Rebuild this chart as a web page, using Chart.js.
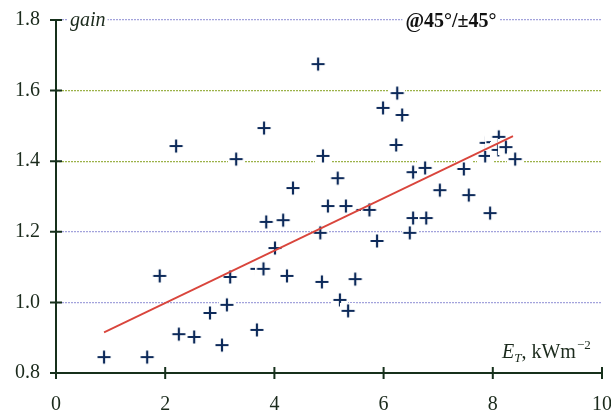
<!DOCTYPE html>
<html>
<head>
<meta charset="utf-8">
<script src="https://cdn.jsdelivr.net/npm/chart.js@4.4.1/dist/chart.umd.min.js"></script>
<style>
  html, body { margin: 0; padding: 0; background: #fff; }
  #wrap { width: 611px; height: 414px; position: relative; }
</style>
</head>
<body>
<div id="wrap"><canvas id="c"></canvas></div>
<script>
// Gain vs. total irradiance E_T
const X_VALUES = [0.88, 1.67, 1.90, 2.20, 2.25, 2.53, 2.82, 3.04, 3.13, 3.19, 3.30, 3.68, 3.68, 3.80,
  3.81, 3.85, 4.01, 4.16, 4.23, 4.34, 4.80, 4.84, 4.87, 4.89, 4.98, 5.16, 5.20, 5.31, 5.35, 5.48,
  5.62, 5.74, 5.88, 5.99, 6.25, 6.34, 6.23, 6.48, 6.54, 6.54, 6.76, 6.78, 7.03, 7.47, 7.56, 7.86,
  7.95, 7.88, 8.00, 8.11, 8.10, 8.24, 8.41];
const GAIN = [0.845, 0.845, 1.075, 1.443, 0.910, 0.902, 0.970, 0.879, 0.993, 1.072, 1.406, 0.922, 1.095, 1.095,
  1.494, 1.228, 1.154, 1.233, 1.075, 1.324, 1.675, 1.197, 1.058, 1.415, 1.273, 1.352, 1.007, 1.273, 0.976, 1.066,
  1.262, 1.262, 1.174, 1.551, 1.593, 1.531, 1.446, 1.197, 1.239, 1.369, 1.381, 1.239, 1.318, 1.378, 1.304, 1.415,
  1.253, 1.452, 1.454, 1.469, 1.432, 1.440, 1.406];
// fitted trend line end points
const TREND_X = [0.88, 8.37];
const TREND_Y = [0.915, 1.471];
const X_TICKS = [0, 2, 4, 6, 8, 10];
const Y_TICKS = [0.8, 1.0, 1.2, 1.4, 1.6, 1.8];

const SERIF = '"Liberation Serif", "DejaVu Serif", serif';
const AXIS_COLOR = "#16301b";
const TEXT_COLOR = "#1b2a1c";
const BLUE_GRID = "#a3a3dc";
const GREEN_GRID = "#9cb24a";

// cross marker on a small white tile (the tiles hide gridlines / neighbours like the original)
function crossMarker() {
  const s = 16;
  const cv = document.createElement("canvas");
  cv.width = s; cv.height = s;
  const g = cv.getContext("2d");
  g.fillStyle = "#fff";
  g.fillRect(0, 0, s, s);
  g.strokeStyle = "#0d2a5a";
  g.lineWidth = 2.2;
  g.beginPath();
  g.moveTo(1.5, s / 2); g.lineTo(s - 1.5, s / 2);
  g.moveTo(s / 2, 1.5); g.lineTo(s / 2, s - 1.5);
  g.stroke();
  return cv;
}

function gridColor(v) {
  if (Math.abs(v - 0.8) < 1e-6) return "rgba(0,0,0,0)";
  if (Math.abs(v - 1.4) < 1e-6 || Math.abs(v - 1.6) < 1e-6) return GREEN_GRID;
  return BLUE_GRID;
}

// axes with ticks that cross the line, plus the in-plot labels
const decor = {
  id: "decor",
  afterDatasetsDraw(chart) {
    const { ctx, chartArea: a, scales: { x, y } } = chart;
    ctx.save();
    ctx.strokeStyle = AXIS_COLOR;
    ctx.lineWidth = 2;
    ctx.beginPath();
    ctx.moveTo(a.left, a.top); ctx.lineTo(a.left, a.bottom);
    ctx.moveTo(a.left, a.bottom); ctx.lineTo(a.right, a.bottom);
    Y_TICKS.forEach((v) => {
      const py = y.getPixelForValue(v);
      ctx.moveTo(a.left - 6, py); ctx.lineTo(a.left + 6, py);
    });
    X_TICKS.forEach((v) => {
      const px = x.getPixelForValue(v);
      ctx.moveTo(px, a.bottom - 6); ctx.lineTo(px, a.bottom + 6);
    });
    ctx.stroke();

    ctx.fillStyle = TEXT_COLOR;
    ctx.textBaseline = "alphabetic";
    const top = y.getPixelForValue(1.8);
    // "gain"
    ctx.font = "italic 20px " + SERIF;
    let w = ctx.measureText("gain").width;
    ctx.fillStyle = "#fff";
    ctx.fillRect(a.left + 12, top - 6, w + 4, 12);
    ctx.fillStyle = TEXT_COLOR;
    ctx.fillText("gain", a.left + 14, top + 6);
    // title
    ctx.font = "bold 20px " + SERIF;
    const title = "@45°/±45°";
    w = ctx.measureText(title).width;
    const tx = 451 - w / 2;
    ctx.fillStyle = "#fff";
    ctx.fillRect(tx - 3, top - 6, w + 6, 12);
    ctx.fillStyle = "#111";
    ctx.fillText(title, tx, top + 7);
    // x-axis title E_T, kWm^-2
    let cx = 502, base = 358;
    ctx.fillStyle = TEXT_COLOR;
    ctx.font = "italic 20px " + SERIF;
    ctx.fillText("E", cx, base); cx += ctx.measureText("E").width;
    ctx.font = "italic 13px " + SERIF;
    ctx.fillText("T", cx, base + 4); cx += ctx.measureText("T").width;
    ctx.font = "20px " + SERIF;
    ctx.fillText(", kWm", cx, base); cx += ctx.measureText(", kWm").width;
    ctx.font = "13px " + SERIF;
    ctx.fillText("\u22122", cx + 1, base - 9);
    ctx.restore();
  },
};

const marker = crossMarker();

new Chart(document.getElementById("c"), {
  type: "scatter",
  data: {
    datasets: [
      {
        type: "line",
        data: TREND_X.map((v, i) => ({ x: v, y: TREND_Y[i] })),
        borderColor: "#d9453c",
        borderWidth: 1.8,
        pointRadius: 0,
        order: 0,
      },
      {
        data: X_VALUES.map((v, i) => ({ x: v, y: GAIN[i] })),
        pointStyle: marker,
        pointRadius: 8,
        order: 1,
      },
    ],
  },
  plugins: [decor],
  options: {
    responsive: true,
    maintainAspectRatio: false,
    animation: false,
    layout: { padding: { top: 20, right: 9, left: 0, bottom: 0 } },
    plugins: { legend: { display: false }, tooltip: { enabled: false } },
    scales: {
      x: {
        type: "linear", min: 0, max: 10,
        afterBuildTicks: (s) => { s.ticks = X_TICKS.map((v) => ({ value: v })); },
        afterFit: (s) => { s.height = 41; s.paddingLeft = 0; s.paddingRight = 0; },
        ticks: { color: TEXT_COLOR, font: { family: SERIF, size: 20 }, padding: 20, maxRotation: 0 },
        grid: { display: false, drawTicks: false },
        border: { display: false },
      },
      y: {
        type: "linear", min: 0.8, max: 1.8,
        afterBuildTicks: (s) => { s.ticks = Y_TICKS.map((v) => ({ value: v })); },
        afterFit: (s) => { s.width = 56; s.paddingTop = 0; s.paddingBottom = 0; },
        ticks: { color: TEXT_COLOR, font: { family: SERIF, size: 20 }, padding: 16, callback: (v) => v.toFixed(1) },
        grid: {
          drawTicks: false,
          color: (c) => gridColor(c.tick.value),
          lineWidth: 1.3,
        },
        border: { display: false, dash: [2, 1] },
      },
    },
  },
});
</script>
</body>
</html>
